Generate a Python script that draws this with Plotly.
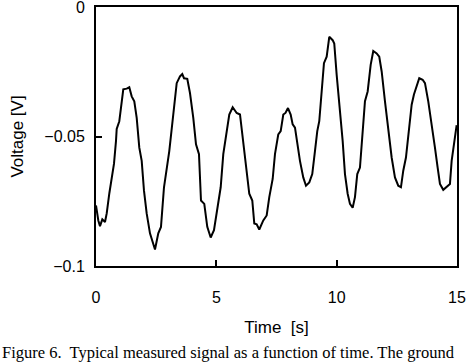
import plotly.graph_objects as go

time_s = [0.000, 0.096, 0.166, 0.262, 0.374, 0.445, 0.553, 0.652, 0.748, 0.831,
          0.860, 0.968, 1.068, 1.134, 1.275, 1.383, 1.483, 1.591, 1.691, 1.799,
          1.899, 1.994, 2.106, 2.243, 2.451, 2.588, 2.700, 2.825, 3.045, 3.211,
          3.353, 3.490, 3.585, 3.656, 3.793, 3.905, 4.042, 4.155, 4.279, 4.362,
          4.499, 4.624, 4.765, 4.902, 5.015, 5.181, 5.289, 5.430, 5.538, 5.679,
          5.845, 5.983, 6.120, 6.261, 6.369, 6.494, 6.577, 6.676, 6.784, 6.951,
          7.092, 7.200, 7.341, 7.437, 7.574, 7.674, 7.782, 7.873, 7.977, 8.089,
          8.172, 8.268, 8.363, 8.475, 8.612, 8.725, 8.862, 8.986, 9.098, 9.194,
          9.277, 9.377, 9.472, 9.585, 9.693, 9.834, 9.900, 10.000, 10.137, 10.249,
          10.345, 10.457, 10.553, 10.665, 10.760, 10.856, 10.968, 11.080, 11.176, 11.288,
          11.413, 11.521, 11.662, 11.770, 11.870, 12.007, 12.144, 12.285, 12.422, 12.559,
          12.671, 12.767, 12.879, 12.975, 13.116, 13.211, 13.324, 13.432, 13.573, 13.669,
          13.806, 13.947, 14.084, 14.196, 14.292, 14.429, 14.570, 14.707, 14.778, 14.874,
          14.985]

voltage_v = [-0.0766, -0.0824, -0.0846, -0.0820, -0.0830, -0.0797, -0.0720, -0.0658, -0.0605, -0.0517,
             -0.0471, -0.0441, -0.0364, -0.0318, -0.0315, -0.0310, -0.0345, -0.0364, -0.0428, -0.0543,
             -0.0594, -0.0709, -0.0797, -0.0874, -0.0936, -0.0874, -0.0849, -0.0696, -0.0556, -0.0402,
             -0.0294, -0.0268, -0.0259, -0.0275, -0.0277, -0.0332, -0.0428, -0.0530, -0.0568, -0.0747,
             -0.0760, -0.0849, -0.0890, -0.0862, -0.0798, -0.0696, -0.0568, -0.0479, -0.0415, -0.0387,
             -0.0409, -0.0415, -0.0517, -0.0620, -0.0721, -0.0747, -0.0836, -0.0839, -0.0859, -0.0824,
             -0.0805, -0.0734, -0.0664, -0.0568, -0.0492, -0.0479, -0.0415, -0.0409, -0.0390, -0.0415,
             -0.0453, -0.0466, -0.0530, -0.0594, -0.0658, -0.0690, -0.0677, -0.0645, -0.0556, -0.0479,
             -0.0441, -0.0313, -0.0217, -0.0192, -0.0115, -0.0128, -0.0141, -0.0262, -0.0390, -0.0517,
             -0.0645, -0.0721, -0.0760, -0.0775, -0.0734, -0.0645, -0.0620, -0.0466, -0.0364, -0.0326,
             -0.0223, -0.0170, -0.0179, -0.0192, -0.0249, -0.0364, -0.0479, -0.0581, -0.0658, -0.0690,
             -0.0696, -0.0632, -0.0581, -0.0492, -0.0377, -0.0338, -0.0307, -0.0275, -0.0281, -0.0294,
             -0.0364, -0.0466, -0.0543, -0.0620, -0.0683, -0.0706, -0.0696, -0.0683, -0.0594, -0.0530,
             -0.0456]

x_ticks = [0, 5, 10, 15]
x_tick_labels = ["0", "5", "10", "15"]
y_ticks = [-0.1, -0.05, 0]
y_tick_labels = ["\u22120.1", "\u22120.05", "0"]

x_title = "Time  [s]"
y_title = "Voltage [V]"
caption = "Figure 6.  Typical measured signal as a function of time. The ground"

fig = go.Figure()
fig.add_trace(go.Scatter(x=time_s, y=voltage_v, mode="lines",
                         line=dict(color="black", width=2), showlegend=False))

axis_font = dict(family="Liberation Sans, Arial, sans-serif", size=16, color="black")

fig.update_layout(
    width=474, height=363,
    margin=dict(l=96, r=17, t=7, b=97),
    paper_bgcolor="white", plot_bgcolor="white",
    font=axis_font,
    xaxis=dict(range=[0, 15.0001], tickvals=x_ticks, ticktext=x_tick_labels,
               ticks="inside", ticklen=6, tickwidth=1.5, tickcolor="black",
               showline=True, linecolor="black", linewidth=2, mirror=True,
               showgrid=False, zeroline=False, ticklabelstandoff=16,
               automargin=False, ticklabeloverflow="allow",
               title=dict(text=x_title, font=dict(size=17), standoff=16)),
    yaxis=dict(range=[-0.1, 0.00001], tickvals=y_ticks, ticktext=y_tick_labels,
               ticks="inside", ticklen=6, tickwidth=1.5, tickcolor="black",
               showline=True, linecolor="black", linewidth=2, mirror=True,
               showgrid=False, zeroline=False, ticklabelstandoff=6,
               automargin=False, ticklabeloverflow="allow",
               title=dict(text=y_title, font=dict(size=17), standoff=16)),
    annotations=[dict(text=caption, xref="paper", yref="paper",
                      x=-0.266, y=-0.288, xanchor="left", yanchor="top",
                      showarrow=False,
                      font=dict(family="Liberation Serif, Times New Roman, serif",
                                size=16.5, color="black"))],
)

fig.write_html("out.html", config={"displayModeBar": False},
               post_script="document.body.style.margin='0';")
